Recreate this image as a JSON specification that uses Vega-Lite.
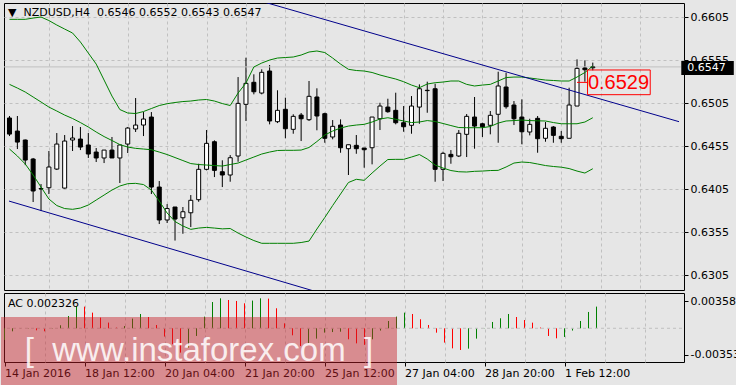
{
"$schema": "https://vega.github.io/schema/vega-lite/v6.json",
"background": "#e6e6e6",
"padding": {"left": 0, "top": 2, "right": 0, "bottom": 0},
"bounds": "flush",
"spacing": 3,
"config": {
  "view": {"stroke": "#000000", "strokeWidth": 1},
  "axis": {"domain": false, "gridColor": "#c0c0c0", "gridDash": [3,3], "gridWidth": 1, "labelFont": "DejaVu Sans", "labelFontSize": 11, "labelColor": "#000000", "tickColor": "#000000", "tickSize": 4},
  "title": {"font": "DejaVu Sans", "fontSize": 11, "fontWeight": "normal", "color": "#000000", "anchor": "start", "frame": "group"}
},
"datasets": {
  "candles": [
    {"k":0,"o":0.64876,"h":0.64899,"l":0.64666,"c":0.64689},
    {"k":1,"o":0.64724,"h":0.64899,"l":0.64515,"c":0.64596},
    {"k":2,"o":0.64620,"h":0.64625,"l":0.64328,"c":0.64387},
    {"k":3,"o":0.64399,"h":0.64411,"l":0.63899,"c":0.64027},
    {"k":4,"o":0.64056,"h":0.64108,"l":0.63794,"c":0.64050},
    {"k":5,"o":0.64065,"h":0.64492,"l":0.63992,"c":0.64306},
    {"k":6,"o":0.64282,"h":0.64701,"l":0.64271,"c":0.64573},
    {"k":7,"o":0.64061,"h":0.64678,"l":0.64055,"c":0.64608},
    {"k":8,"o":0.64620,"h":0.64782,"l":0.64492,"c":0.64643},
    {"k":9,"o":0.64631,"h":0.64771,"l":0.64503,"c":0.64538},
    {"k":10,"o":0.64562,"h":0.64701,"l":0.64411,"c":0.64457},
    {"k":11,"o":0.64480,"h":0.64527,"l":0.64364,"c":0.64411},
    {"k":12,"o":0.64411,"h":0.64503,"l":0.64352,"c":0.64503},
    {"k":13,"o":0.64503,"h":0.64655,"l":0.64411,"c":0.64411},
    {"k":14,"o":0.64411,"h":0.64562,"l":0.64120,"c":0.64562},
    {"k":15,"o":0.64573,"h":0.64771,"l":0.64469,"c":0.64759},
    {"k":16,"o":0.64748,"h":0.65108,"l":0.64713,"c":0.64794},
    {"k":17,"o":0.64794,"h":0.64945,"l":0.64666,"c":0.64864},
    {"k":18,"o":0.64887,"h":0.64945,"l":0.63992,"c":0.64073},
    {"k":19,"o":0.64073,"h":0.64143,"l":0.63643,"c":0.63690},
    {"k":20,"o":0.63690,"h":0.63875,"l":0.63655,"c":0.63823},
    {"k":21,"o":0.63841,"h":0.63841,"l":0.63451,"c":0.63701},
    {"k":22,"o":0.63716,"h":0.63841,"l":0.63530,"c":0.63786},
    {"k":23,"o":0.63774,"h":0.63980,"l":0.63608,"c":0.63919},
    {"k":24,"o":0.63926,"h":0.64344,"l":0.63902,"c":0.64279},
    {"k":25,"o":0.64279,"h":0.64736,"l":0.64267,"c":0.64581},
    {"k":26,"o":0.64600,"h":0.64616,"l":0.64189,"c":0.64267},
    {"k":27,"o":0.64251,"h":0.64384,"l":0.64073,"c":0.64213},
    {"k":28,"o":0.64213,"h":0.64445,"l":0.64135,"c":0.64414},
    {"k":29,"o":0.64434,"h":0.65352,"l":0.64367,"c":0.65046},
    {"k":30,"o":0.65035,"h":0.65577,"l":0.64841,"c":0.65279},
    {"k":31,"o":0.65291,"h":0.65384,"l":0.65151,"c":0.65181},
    {"k":32,"o":0.65166,"h":0.65442,"l":0.65151,"c":0.65407},
    {"k":33,"o":0.65422,"h":0.65492,"l":0.64802,"c":0.64841},
    {"k":34,"o":0.64833,"h":0.65198,"l":0.64817,"c":0.64965},
    {"k":35,"o":0.64977,"h":0.65112,"l":0.64640,"c":0.64751},
    {"k":36,"o":0.64744,"h":0.64919,"l":0.64693,"c":0.64895},
    {"k":37,"o":0.64910,"h":0.64934,"l":0.64608,"c":0.64867},
    {"k":38,"o":0.64856,"h":0.65306,"l":0.64841,"c":0.65128},
    {"k":39,"o":0.65120,"h":0.65221,"l":0.64733,"c":0.64899},
    {"k":40,"o":0.64926,"h":0.64937,"l":0.64588,"c":0.64640},
    {"k":41,"o":0.64655,"h":0.64852,"l":0.64628,"c":0.64779},
    {"k":42,"o":0.64794,"h":0.64860,"l":0.64472,"c":0.64530},
    {"k":43,"o":0.64519,"h":0.64565,"l":0.64213,"c":0.64565},
    {"k":44,"o":0.64558,"h":0.64678,"l":0.64460,"c":0.64519},
    {"k":45,"o":0.64527,"h":0.64527,"l":0.64298,"c":0.64507},
    {"k":46,"o":0.64530,"h":0.64887,"l":0.64337,"c":0.64887},
    {"k":47,"o":0.64867,"h":0.65053,"l":0.64736,"c":0.65015},
    {"k":48,"o":0.65003,"h":0.65100,"l":0.64937,"c":0.64949},
    {"k":49,"o":0.64965,"h":0.65170,"l":0.64802,"c":0.64821},
    {"k":50,"o":0.64821,"h":0.65015,"l":0.64716,"c":0.64774},
    {"k":51,"o":0.64791,"h":0.65131,"l":0.64693,"c":0.65015},
    {"k":52,"o":0.65003,"h":0.65267,"l":0.64809,"c":0.65216},
    {"k":53,"o":0.65198,"h":0.65298,"l":0.64937,"c":0.65194},
    {"k":54,"o":0.65216,"h":0.65274,"l":0.64135,"c":0.64279},
    {"k":55,"o":0.64279,"h":0.64484,"l":0.64143,"c":0.64465},
    {"k":56,"o":0.64453,"h":0.64503,"l":0.64344,"c":0.64425},
    {"k":57,"o":0.64434,"h":0.64736,"l":0.64422,"c":0.64698},
    {"k":58,"o":0.64686,"h":0.64922,"l":0.64422,"c":0.64895},
    {"k":59,"o":0.64887,"h":0.65120,"l":0.64519,"c":0.64782},
    {"k":60,"o":0.64809,"h":0.64821,"l":0.64655,"c":0.64774},
    {"k":61,"o":0.64791,"h":0.64957,"l":0.64686,"c":0.64907},
    {"k":62,"o":0.64919,"h":0.65414,"l":0.64588,"c":0.65248},
    {"k":63,"o":0.65236,"h":0.65402,"l":0.64984,"c":0.65007},
    {"k":64,"o":0.65027,"h":0.65073,"l":0.64794,"c":0.64867},
    {"k":65,"o":0.64887,"h":0.65093,"l":0.64570,"c":0.64716},
    {"k":66,"o":0.64713,"h":0.64867,"l":0.64674,"c":0.64802},
    {"k":67,"o":0.64872,"h":0.64899,"l":0.64472,"c":0.64635},
    {"k":68,"o":0.64640,"h":0.64829,"l":0.64600,"c":0.64756},
    {"k":69,"o":0.64771,"h":0.64782,"l":0.64588,"c":0.64674},
    {"k":70,"o":0.64663,"h":0.64724,"l":0.64588,"c":0.64635},
    {"k":71,"o":0.64640,"h":0.65228,"l":0.64640,"c":0.65027},
    {"k":72,"o":0.65015,"h":0.65558,"l":0.65015,"c":0.65453},
    {"k":73,"o":0.65457,"h":0.65546,"l":0.65298,"c":0.65437},
    {"k":74,"o":0.6546,"h":0.6552,"l":0.6543,"c":0.6547}
  ],
  "bands": [
    {"k":0,"up":0.66023,"mid":0.65267,"lo":0.64515},
    {"k":1,"up":0.66023,"mid":0.65224,"lo":0.64434},
    {"k":2,"up":0.66023,"mid":0.65178,"lo":0.64341},
    {"k":3,"up":0.66038,"mid":0.65120,"lo":0.64213},
    {"k":4,"up":0.66050,"mid":0.65062,"lo":0.64073},
    {"k":5,"up":0.66009,"mid":0.65003,"lo":0.63934},
    {"k":6,"up":0.65957,"mid":0.64957,"lo":0.63858},
    {"k":7,"up":0.65910,"mid":0.64910,"lo":0.63823},
    {"k":8,"up":0.65864,"mid":0.64870,"lo":0.63814},
    {"k":9,"up":0.65759,"mid":0.64823,"lo":0.63829},
    {"k":10,"up":0.65631,"mid":0.64771,"lo":0.63864},
    {"k":11,"up":0.65503,"mid":0.64713,"lo":0.63922},
    {"k":12,"up":0.65317,"mid":0.64660,"lo":0.63980},
    {"k":13,"up":0.65131,"mid":0.64614,"lo":0.64038},
    {"k":14,"up":0.64974,"mid":0.64567,"lo":0.64085},
    {"k":15,"up":0.64934,"mid":0.64538,"lo":0.64112},
    {"k":16,"up":0.64928,"mid":0.64523,"lo":0.64116},
    {"k":17,"up":0.64951,"mid":0.64515,"lo":0.64102},
    {"k":18,"up":0.64986,"mid":0.64507,"lo":0.64038},
    {"k":19,"up":0.65021,"mid":0.64480,"lo":0.63910},
    {"k":20,"up":0.65042,"mid":0.64451,"lo":0.63771},
    {"k":21,"up":0.65056,"mid":0.64416,"lo":0.63672},
    {"k":22,"up":0.65067,"mid":0.64381,"lo":0.63620},
    {"k":23,"up":0.65073,"mid":0.64346,"lo":0.63581},
    {"k":24,"up":0.65085,"mid":0.64335,"lo":0.63596},
    {"k":25,"up":0.65091,"mid":0.64329,"lo":0.63604},
    {"k":26,"up":0.65073,"mid":0.64323,"lo":0.63596},
    {"k":27,"up":0.65044,"mid":0.64317,"lo":0.63587},
    {"k":28,"up":0.65021,"mid":0.64335,"lo":0.63591},
    {"k":29,"up":0.65166,"mid":0.64352,"lo":0.63538},
    {"k":30,"up":0.65283,"mid":0.64387,"lo":0.63492},
    {"k":31,"up":0.65469,"mid":0.64422,"lo":0.63451},
    {"k":32,"up":0.65515,"mid":0.64457,"lo":0.63419},
    {"k":33,"up":0.65550,"mid":0.64480,"lo":0.63419},
    {"k":34,"up":0.65573,"mid":0.64498,"lo":0.63419},
    {"k":35,"up":0.65579,"mid":0.64500,"lo":0.63419},
    {"k":36,"up":0.65585,"mid":0.64500,"lo":0.63419},
    {"k":37,"up":0.65608,"mid":0.64503,"lo":0.63428},
    {"k":38,"up":0.65643,"mid":0.64533,"lo":0.63445},
    {"k":39,"up":0.65655,"mid":0.64602,"lo":0.63585},
    {"k":40,"up":0.65637,"mid":0.64678,"lo":0.63719},
    {"k":41,"up":0.65573,"mid":0.64724,"lo":0.63858},
    {"k":42,"up":0.65503,"mid":0.64759,"lo":0.63992},
    {"k":43,"up":0.65442,"mid":0.64782,"lo":0.64126},
    {"k":44,"up":0.65428,"mid":0.64794,"lo":0.64163},
    {"k":45,"up":0.65422,"mid":0.64802,"lo":0.64151},
    {"k":46,"up":0.65405,"mid":0.64829,"lo":0.64236},
    {"k":47,"up":0.65376,"mid":0.64864,"lo":0.64317},
    {"k":48,"up":0.65352,"mid":0.64879,"lo":0.64393},
    {"k":49,"up":0.65329,"mid":0.64861,"lo":0.64395},
    {"k":50,"up":0.65298,"mid":0.64841,"lo":0.64395},
    {"k":51,"up":0.65259,"mid":0.64823,"lo":0.64422},
    {"k":52,"up":0.65228,"mid":0.64829,"lo":0.64451},
    {"k":53,"up":0.65271,"mid":0.64846,"lo":0.64399},
    {"k":54,"up":0.65286,"mid":0.64835,"lo":0.64329},
    {"k":55,"up":0.65294,"mid":0.64812,"lo":0.64294},
    {"k":56,"up":0.65306,"mid":0.64788,"lo":0.64265},
    {"k":57,"up":0.65306,"mid":0.64765,"lo":0.64251},
    {"k":58,"up":0.65267,"mid":0.64763,"lo":0.64248},
    {"k":59,"up":0.65248,"mid":0.64763,"lo":0.64256},
    {"k":60,"up":0.65259,"mid":0.64763,"lo":0.64259},
    {"k":61,"up":0.65267,"mid":0.64777,"lo":0.64265},
    {"k":62,"up":0.65306,"mid":0.64817,"lo":0.64267},
    {"k":63,"up":0.65346,"mid":0.64841,"lo":0.64306},
    {"k":64,"up":0.65352,"mid":0.64846,"lo":0.64352},
    {"k":65,"up":0.65352,"mid":0.64852,"lo":0.64364},
    {"k":66,"up":0.65341,"mid":0.64846,"lo":0.64358},
    {"k":67,"up":0.65329,"mid":0.64843,"lo":0.64341},
    {"k":68,"up":0.65317,"mid":0.64841,"lo":0.64323},
    {"k":69,"up":0.65312,"mid":0.64823,"lo":0.64312},
    {"k":70,"up":0.65306,"mid":0.64809,"lo":0.64304},
    {"k":71,"up":0.65306,"mid":0.64809,"lo":0.64288},
    {"k":72,"up":0.65352,"mid":0.64809,"lo":0.64259},
    {"k":73,"up":0.65405,"mid":0.64829,"lo":0.64236},
    {"k":74,"up":0.65480,"mid":0.64879,"lo":0.64286}
  ],
  "trend": [
    {"line":"upper","k":30,"p":0.66285},
    {"line":"upper","k":84.94,"p":0.64833},
    {"line":"lower","k":-0.0625,"p":0.63910},
    {"line":"lower","k":40,"p":0.62827}
  ],
  "quote": [{"k": 74, "price": 0.6547}],
  "label": [{"k": 72, "price": 0.6529}],
  "ac": [
    {"k":0,"ac":-0.00155,"dir":"up"},{"k":1,"ac":-0.0004,"dir":"up"},{"k":2,"ac":-0.00004,"dir":"up"},{"k":3,"ac":0.00004,"dir":"up"},{"k":4,"ac":-0.00027,"dir":"down"},
    {"k":5,"ac":-0.0004,"dir":"down"},{"k":6,"ac":-0.00004,"dir":"up"},{"k":7,"ac":0.0004,"dir":"up"},{"k":8,"ac":0.00163,"dir":"up"},{"k":9,"ac":0.00296,"dir":"up"},
    {"k":10,"ac":0.00288,"dir":"down"},{"k":11,"ac":0.00208,"dir":"down"},{"k":12,"ac":0.00142,"dir":"down"},{"k":13,"ac":0.00076,"dir":"down"},{"k":14,"ac":0.0001,"dir":"down"},
    {"k":15,"ac":0.0003,"dir":"up"},{"k":16,"ac":0.00129,"dir":"up"},{"k":17,"ac":0.0019,"dir":"up"},{"k":18,"ac":0.0015,"dir":"down"},{"k":19,"ac":0.00044,"dir":"down"},
    {"k":20,"ac":-0.0011,"dir":"down"},{"k":21,"ac":-0.00212,"dir":"down"},{"k":22,"ac":-0.00323,"dir":"down"},{"k":23,"ac":-0.00256,"dir":"up"},{"k":24,"ac":-0.00102,"dir":"up"},
    {"k":25,"ac":0.00155,"dir":"up"},{"k":26,"ac":0.00349,"dir":"up"},{"k":27,"ac":0.00398,"dir":"up"},{"k":28,"ac":0.00376,"dir":"down"},{"k":29,"ac":0.00363,"dir":"down"},
    {"k":30,"ac":0.00332,"dir":"down"},{"k":31,"ac":0.00368,"dir":"up"},{"k":32,"ac":0.00398,"dir":"up"},{"k":33,"ac":0.00394,"dir":"down"},{"k":34,"ac":0.00266,"dir":"down"},
    {"k":35,"ac":0.00066,"dir":"down"},{"k":36,"ac":-0.00093,"dir":"down"},{"k":37,"ac":-0.00235,"dir":"down"},{"k":38,"ac":-0.00199,"dir":"up"},{"k":39,"ac":-0.00137,"dir":"up"},
    {"k":40,"ac":-0.00057,"dir":"up"},{"k":41,"ac":-0.0005,"dir":"up"},{"k":42,"ac":-0.00045,"dir":"up"},{"k":43,"ac":-0.00146,"dir":"down"},{"k":44,"ac":-0.002,"dir":"down"},
    {"k":45,"ac":-0.0022,"dir":"down"},{"k":46,"ac":-0.00146,"dir":"up"},{"k":47,"ac":-0.0003,"dir":"up"},{"k":48,"ac":0.00097,"dir":"up"},{"k":49,"ac":0.00155,"dir":"up"},
    {"k":50,"ac":0.00208,"dir":"up"},{"k":51,"ac":0.0019,"dir":"down"},{"k":52,"ac":0.0012,"dir":"down"},{"k":53,"ac":0.00044,"dir":"down"},{"k":54,"ac":-0.00058,"dir":"down"},
    {"k":55,"ac":-0.0019,"dir":"down"},{"k":56,"ac":-0.00266,"dir":"down"},{"k":57,"ac":-0.00288,"dir":"down"},{"k":58,"ac":-0.0027,"dir":"up"},{"k":59,"ac":-0.00137,"dir":"up"},
    {"k":60,"ac":-0.00003,"dir":"up"},{"k":61,"ac":0.00084,"dir":"up"},{"k":62,"ac":0.00133,"dir":"up"},{"k":63,"ac":0.0019,"dir":"up"},{"k":64,"ac":0.0015,"dir":"down"},
    {"k":65,"ac":0.0011,"dir":"down"},{"k":66,"ac":0.00075,"dir":"down"},{"k":67,"ac":0.0001,"dir":"down"},{"k":68,"ac":-0.00102,"dir":"down"},{"k":69,"ac":-0.00133,"dir":"down"},
    {"k":70,"ac":-0.00115,"dir":"up"},{"k":71,"ac":-0.0003,"dir":"up"},{"k":72,"ac":0.00097,"dir":"up"},{"k":73,"ac":0.00217,"dir":"up"},{"k":74,"ac":0.00288,"dir":"up"}
  ]
},
"vconcat": [
  {
    "width": 680,
    "height": 287,
    "title": {"text": "▼\u00a0\u00a0NZDUSD,H4\u00a0\u00a00.6546 0.6552 0.6543 0.6547", "offset": -21, "baseline": "middle", "dx": 4},
    "layer": [
      {
        "data": {"name": "candles"},
        "mark": {"type": "rule", "color": "#000000", "strokeWidth": 1},
        "encoding": {
          "x": {"field": "k", "type": "quantitative", "scale": {"domain": [-0.0625, 84.9375], "nice": false},
                "axis": {"title": null, "values": [5,10,15,20,25,30,35,40,45,50,55,60,65,70,75,80], "grid": true, "labels": false, "ticks": false, "domain": false}},
          "y": {"field": "l", "type": "quantitative", "scale": {"domain": [0.62876, 0.66213], "nice": false},
                "axis": {"title": null, "orient": "right", "values": [0.6305,0.6355,0.6405,0.6455,0.6505,0.6555,0.6605], "format": ".4f", "grid": true, "labelPadding": 2, "labelBaseline": "middle"}},
          "y2": {"field": "h"}
        }
      },
      {
        "data": {"name": "quote"},
        "mark": {"type": "point", "shape": "M-593,0H88", "size": 4, "filled": false, "stroke": "#c0c0c0", "strokeWidth": 1, "opacity": 1, "clip": true},
        "encoding": {
          "x": {"field": "k", "type": "quantitative", "scale": {"domain": [-0.0625, 84.9375], "nice": false}},
          "y": {"field": "price", "type": "quantitative", "scale": {"domain": [0.62876, 0.66213], "nice": false}}
        }
      },
      {
        "data": {"name": "candles"},
        "mark": {"type": "bar", "width": 4, "stroke": "#000000", "strokeWidth": 1},
        "encoding": {
          "x": {"field": "k", "type": "quantitative", "scale": {"domain": [-0.0625, 84.9375], "nice": false}},
          "y": {"field": "o", "type": "quantitative", "scale": {"domain": [0.62876, 0.66213], "nice": false}},
          "y2": {"field": "c"},
          "fill": {"condition": {"test": "datum.c >= datum.o", "value": "#ffffff"}, "value": "#000000"}
        }
      },
      {
        "data": {"name": "bands"},
        "mark": {"type": "line", "color": "#008000", "strokeWidth": 1, "clip": true},
        "encoding": {
          "x": {"field": "k", "type": "quantitative", "scale": {"domain": [-0.0625, 84.9375], "nice": false}},
          "y": {"field": "up", "type": "quantitative", "scale": {"domain": [0.62876, 0.66213], "nice": false}}
        }
      },
      {
        "data": {"name": "bands"},
        "mark": {"type": "line", "color": "#008000", "strokeWidth": 1, "clip": true},
        "encoding": {
          "x": {"field": "k", "type": "quantitative", "scale": {"domain": [-0.0625, 84.9375], "nice": false}},
          "y": {"field": "mid", "type": "quantitative", "scale": {"domain": [0.62876, 0.66213], "nice": false}}
        }
      },
      {
        "data": {"name": "bands"},
        "mark": {"type": "line", "color": "#008000", "strokeWidth": 1, "clip": true},
        "encoding": {
          "x": {"field": "k", "type": "quantitative", "scale": {"domain": [-0.0625, 84.9375], "nice": false}},
          "y": {"field": "lo", "type": "quantitative", "scale": {"domain": [0.62876, 0.66213], "nice": false}}
        }
      },
      {
        "data": {"name": "trend"},
        "mark": {"type": "line", "color": "#00008b", "strokeWidth": 1, "clip": true},
        "encoding": {
          "x": {"field": "k", "type": "quantitative", "scale": {"domain": [-0.0625, 84.9375], "nice": false}},
          "y": {"field": "p", "type": "quantitative", "scale": {"domain": [0.62876, 0.66213], "nice": false}},
          "detail": {"field": "line"}
        }
      },
      {
        "data": {"name": "label"},
        "mark": {"type": "point", "shape": "M0,0H10.5M10.5,-12.4H73.2V12.3H10.5Z", "size": 4, "filled": false, "stroke": "#ff0000", "strokeWidth": 1, "opacity": 1},
        "encoding": {
          "x": {"field": "k", "type": "quantitative", "scale": {"domain": [-0.0625, 84.9375], "nice": false}},
          "y": {"field": "price", "type": "quantitative", "scale": {"domain": [0.62876, 0.66213], "nice": false}}
        }
      },
      {
        "data": {"name": "label"},
        "mark": {"type": "text", "font": "Liberation Sans", "fontSize": 20, "color": "#ff0000", "align": "center", "baseline": "middle", "dx": 41.5, "dy": 1},
        "encoding": {
          "x": {"field": "k", "type": "quantitative", "scale": {"domain": [-0.0625, 84.9375], "nice": false}},
          "y": {"field": "price", "type": "quantitative", "scale": {"domain": [0.62876, 0.66213], "nice": false}},
          "text": {"field": "price", "type": "quantitative", "format": ".4f"}
        }
      },
      {
        "data": {"name": "quote"},
        "mark": {"type": "point", "shape": "M88.5,-6H141V8H88.5Z", "size": 4, "filled": true, "fill": "#000000", "strokeWidth": 0, "opacity": 1},
        "encoding": {
          "x": {"field": "k", "type": "quantitative", "scale": {"domain": [-0.0625, 84.9375], "nice": false}},
          "y": {"field": "price", "type": "quantitative", "scale": {"domain": [0.62876, 0.66213], "nice": false}}
        }
      },
      {
        "data": {"name": "quote"},
        "mark": {"type": "text", "font": "DejaVu Sans", "fontSize": 11, "color": "#ffffff", "align": "left", "baseline": "middle", "dx": 94.5, "dy": 1},
        "encoding": {
          "x": {"field": "k", "type": "quantitative", "scale": {"domain": [-0.0625, 84.9375], "nice": false}},
          "y": {"field": "price", "type": "quantitative", "scale": {"domain": [0.62876, 0.66213], "nice": false}},
          "text": {"field": "price", "type": "quantitative", "format": ".4f"}
        }
      }
    ]
  },
  {
    "width": 680,
    "height": 69,
    "title": {"text": "AC 0.002326", "offset": -22, "baseline": "middle", "dx": 4},
    "layer": [
      {
        "data": {"name": "ac"},
        "mark": {"type": "rule", "strokeWidth": 1},
        "encoding": {
          "x": {"field": "k", "type": "quantitative", "scale": {"domain": [-0.0625, 84.9375], "nice": false},
                "axis": {"title": null, "values": [0,5,10,15,20,25,30,35,40,45,50,55,60,65,70,75,80], "grid": true,
                         "gridOpacity": {"condition": {"test": "datum.value == 0", "value": 0}, "value": 1},
                         "tickOpacity": {"condition": {"test": "datum.value % 10 == 0 && datum.value <= 70", "value": 1}, "value": 0},
                         "labelExpr": "datum.value == 0 ? '14 Jan 2016' : datum.value == 10 ? '18 Jan 12:00' : datum.value == 20 ? '20 Jan 04:00' : datum.value == 30 ? '21 Jan 20:00' : datum.value == 40 ? '25 Jan 12:00' : datum.value == 50 ? '27 Jan 04:00' : datum.value == 60 ? '28 Jan 20:00' : datum.value == 70 ? '1 Feb 12:00' : ''",
                         "labelAlign": "left", "labelBaseline": "top", "labelPadding": 1, "labelFlush": false, "labelOverlap": false}},
          "y": {"field": "ac", "type": "quantitative", "scale": {"domain": [-0.004475, 0.004688], "nice": false},
                "axis": {"title": null, "orient": "right", "values": [0.003586, 0.000000000001, -0.00353], "grid": false,
                         "labelExpr": "abs(datum.value) < 0.000001 ? '0.00' : (datum.value > 0 ? '0.003586' : '-0.003530')",
                         "labelPadding": 2, "labelBaseline": "middle", "labelFlush": false, "labelOverlap": false}},
          "y2": {"datum": 0},
          "color": {"field": "dir", "type": "nominal", "scale": {"domain": ["up", "down"], "range": ["#008000", "#ff0000"]}, "legend": null}
        }
      },
      {
        "data": {"name": "ac"},
        "transform": [{"filter": "datum.k == 0"}],
        "mark": {"type": "point", "shape": "M-3.5,-11.7H680", "size": 4, "filled": false, "stroke": "#c0c0c0", "strokeDash": [3,3], "strokeWidth": 1, "opacity": 1, "clip": true},
        "encoding": {
          "x": {"field": "k", "type": "quantitative", "scale": {"domain": [-0.0625, 84.9375], "nice": false}},
          "y": {"field": "ac", "type": "quantitative", "scale": {"domain": [-0.004475, 0.004688], "nice": false}}
        }
      },
      {
        "data": {"name": "ac"},
        "transform": [{"filter": "datum.k == 0"}],
        "mark": {"type": "point", "shape": "M-3.5,-23H392.5V46H-3.5Z", "size": 4, "filled": true, "fill": "#c81e28", "fillOpacity": 0.45, "strokeWidth": 0, "opacity": 1},
        "encoding": {
          "x": {"field": "k", "type": "quantitative", "scale": {"domain": [-0.0625, 84.9375], "nice": false}},
          "y": {"field": "ac", "type": "quantitative", "scale": {"domain": [-0.004475, 0.004688], "nice": false}}
        }
      },
      {
        "data": {"name": "ac"},
        "transform": [{"filter": "datum.k == 0"}],
        "mark": {"type": "text", "text": "[\u00a0\u00a0www.instaforex.com\u00a0\u00a0]", "font": "Liberation Sans", "fontSize": 33, "color": "#ffffff", "opacity": 0.85, "align": "center", "baseline": "alphabetic", "dx": 194.5, "dy": 21},
        "encoding": {
          "x": {"field": "k", "type": "quantitative", "scale": {"domain": [-0.0625, 84.9375], "nice": false}},
          "y": {"field": "ac", "type": "quantitative", "scale": {"domain": [-0.004475, 0.004688], "nice": false}}
        }
      }
    ]
  }
]
}
